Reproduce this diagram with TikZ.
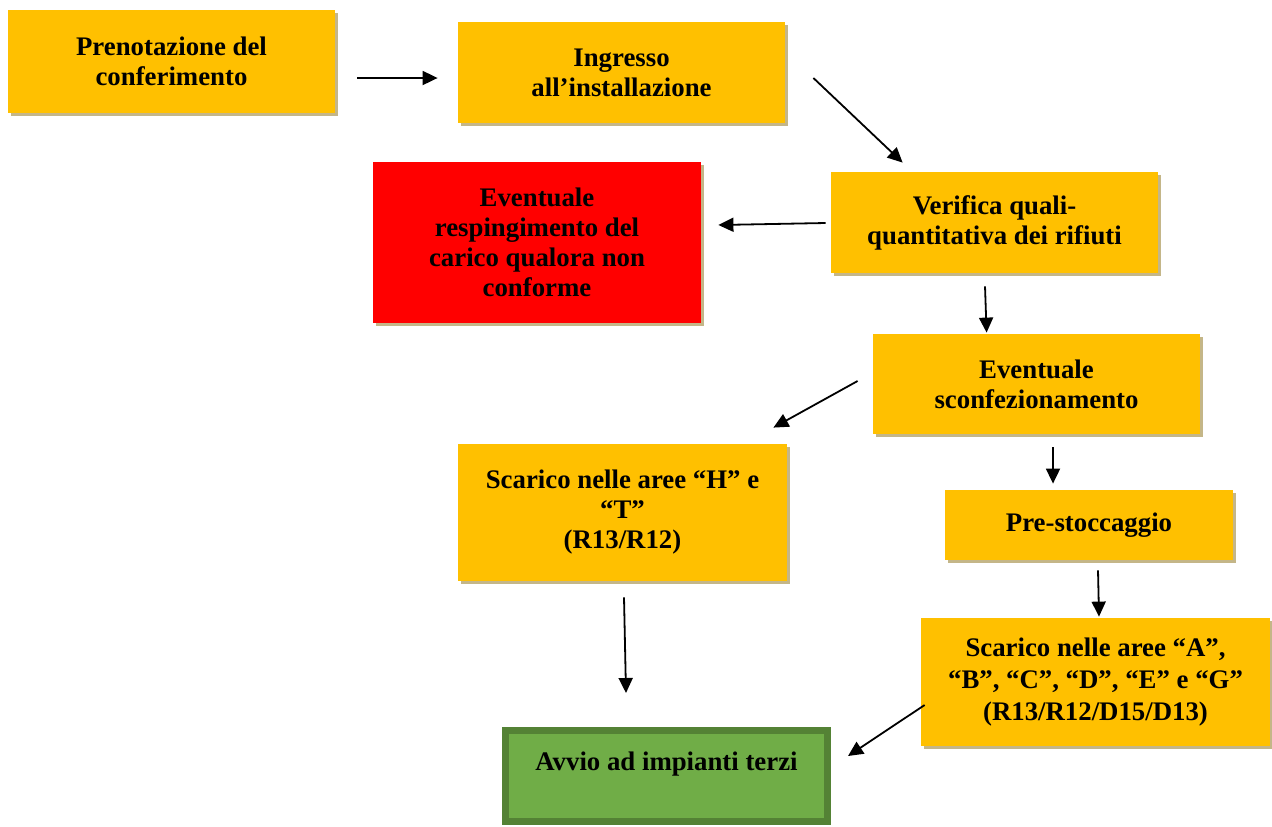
\documentclass[tikz,border=0pt]{standalone}
\usepackage{fontspec}
\setmainfont{Liberation Serif}
\usetikzlibrary{arrows.meta,shadows}
\definecolor{boxyellow}{RGB}{255,192,0}
\definecolor{boxred}{RGB}{255,0,0}
\definecolor{boxgreen}{RGB}{112,173,71}
\definecolor{edgegreen}{RGB}{84,130,53}
\definecolor{shadowtan}{RGB}{196,182,136}
\begin{document}
\begin{tikzpicture}[x=0.5pt, y=-0.5pt, >={Triangle[length=7.5pt,width=7pt]},
  stepbox/.style={fill=boxyellow, align=center, inner sep=0pt,
    font=\fontsize{13.4}{15}\selectfont\bfseries,
    drop shadow={shadow xshift=1.5pt, shadow yshift=-1.5pt, fill=shadowtan, opacity=1}},
  flow/.style={->, line width=0.9pt}]
\useasboundingbox (0,0) rectangle (1272,826);
\node[stepbox, minimum width=163.5pt, minimum height=51.5pt] (pren) at (171.5,61.5) {Prenotazione del\\conferimento};
\node[stepbox, minimum width=163.5pt, minimum height=50.5pt] (ingr) at (621.5,72.5) {Ingresso\\all’installazione};
\node[stepbox, fill=boxred, minimum width=164pt, minimum height=80.5pt] (resp) at (537,242.5) {Eventuale\\respingimento del\\carico qualora non\\conforme};
\node[stepbox, minimum width=163.5pt, minimum height=50.5pt] (verif) at (994.5,222.5) {Verifica quali-\\quantitativa dei rifiuti};
\node[stepbox, minimum width=163.5pt, minimum height=50pt] (sconf) at (1036.5,384) {Eventuale\\sconfezionamento};
\node[stepbox, minimum width=164.5pt, minimum height=68.5pt] (scarht) at (622.5,512.5) {Scarico nelle aree “H” e\\“T”\\(R13/R12)};
\node[stepbox, minimum width=144pt, minimum height=35pt] (prest) at (1089,525) {Pre-stoccaggio};
\node[stepbox, font=\fontsize{13.4}{16}\selectfont\bfseries, minimum width=174.5pt, minimum height=64pt] (scarag) at (1095.5,682) {\raisebox{-2pt}{}Scarico nelle aree “A”,\\“B”, “C”, “D”, “E” e “G”\\(R13/R12/D15/D13)};
\node[stepbox, fill=boxgreen, draw=edgegreen, line width=3.5pt, minimum width=161pt, minimum height=45.5pt] (avvio) at (666.5,776) {Avvio ad impianti terzi\\\mbox{}};
% connectors
\draw[flow] ([shift={(22,16.5)}]pren.east) -- ([shift={(-20,5.5)}]ingr.west);
\draw[flow] ([shift={(28,5.5)}]ingr.east) -- ([shift={(72,-9)}]verif.north west);
\draw[flow] ([shift={(-5,0.5)}]verif.west) -- ([shift={(17,-17.5)}]resp.east);
\draw[flow] ([shift={(-9.5,13)}]verif.south) -- ([shift={(114,-1)}]sconf.north west);
\draw[flow] ([shift={(-15,-3)}]sconf.west) -- ([shift={(-14,-16)}]scarht.north east);
\draw[flow] ([shift={(16.5,13)}]sconf.south) -- ([shift={(-36,-6)}]prest.north);
\draw[flow] ([shift={(9,10)}]prest.south) -- ([shift={(3.5,-1)}]scarag.north);
\draw[flow] ([shift={(1.5,16)}]scarht.south) -- ([shift={(-40.5,-34)}]avvio.north);
\draw[flow] ([shift={(4,23)}]scarag.west) -- ([shift={(17,-20)}]avvio.east);
\end{tikzpicture}
\end{document}
